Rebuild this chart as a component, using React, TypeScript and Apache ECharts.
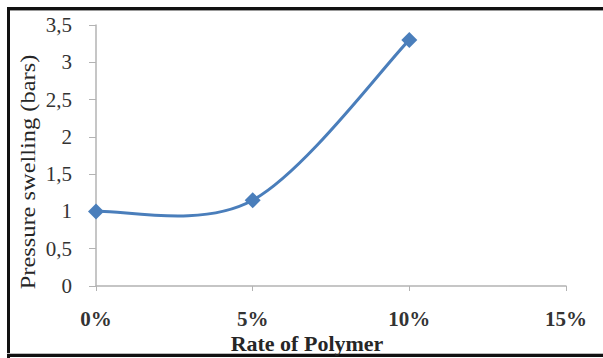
import React, { useEffect, useRef } from "react";
import * as echarts from "echarts";

const categories = ["0%", "5%", "10%", "15%"];
const pressureValues: (number | null)[] = [1, 1.15, 3.3, null];
const yTicks = { min: 0, max: 3.5, interval: 0.5 };
const xTitle = "Rate of Polymer";
const yTitle = "Pressure swelling (bars)";

const serif = "'Liberation Serif', 'Times New Roman', serif";

export default function App() {
  const ref = useRef<HTMLDivElement>(null);
  useEffect(() => {
    if (!ref.current) return;
    const chart = echarts.init(ref.current, null, { renderer: "svg" });

    const pointData = pressureValues
      .map((v, i) => (v == null ? null : [i, v]))
      .filter((d) => d !== null) as number[][];

    const renderCurve = (params: any, api: any) => {
      if (params.dataIndex !== 0) return null;
      const pts = pointData.map((d) => api.coord(d));
      if (pts.length < 2) return null;
      let d = `M${pts[0][0]},${pts[0][1]}`;
      for (let i = 0; i < pts.length - 1; i++) {
        const p0 = pts[i - 1] || pts[i];
        const p1 = pts[i];
        const p2 = pts[i + 1];
        const p3 = pts[i + 2] || pts[i + 1];
        const c1x = p1[0] + (p2[0] - p0[0]) / 6;
        const c1y = p1[1] + (p2[1] - p0[1]) / 6;
        const c2x = p2[0] - (p3[0] - p1[0]) / 6;
        const c2y = p2[1] - (p3[1] - p1[1]) / 6;
        d += ` C${c1x},${c1y} ${c2x},${c2y} ${p2[0]},${p2[1]}`;
      }
      return {
        type: "path",
        shape: { pathData: d },
        style: { stroke: "#4a7ebb", lineWidth: 3, fill: "none" },
      };
    };

    chart.setOption({
      animation: false,
      backgroundColor: "#ffffff",
      grid: { left: 96, right: 37, top: 25, bottom: 72 },
      xAxis: {
        type: "category",
        data: categories,
        boundaryGap: false,
        axisLine: { lineStyle: { color: "#b3b3b3", width: 1.5 } },
        axisTick: { show: true, length: 5, alignWithLabel: true, lineStyle: { color: "#b3b3b3" } },
        axisLabel: {
          margin: 22,
          fontFamily: serif,
          fontSize: 21,
          fontWeight: "bold",
          color: "#333333",
        },
        splitLine: { show: false },
      },
      yAxis: {
        type: "value",
        min: yTicks.min,
        max: yTicks.max,
        interval: yTicks.interval,
        axisLine: { show: true, lineStyle: { color: "#b3b3b3", width: 1.5 } },
        axisTick: { show: true, length: 7, lineStyle: { color: "#b3b3b3" } },
        splitLine: { show: false },
        axisLabel: {
          margin: 24,
          fontFamily: serif,
          fontSize: 21,
          color: "#333333",
          formatter: (v: number) => String(v).replace(".", ","),
        },
      },
      series: [
        {
          type: "custom",
          data: pointData,
          encode: { x: 0, y: 1 },
          renderItem: renderCurve,
          z: 2,
          silent: true,
        },
        {
          type: "scatter",
          data: pointData,
          symbol: "diamond",
          symbolSize: 16,
          itemStyle: { color: "#4a7ebb", opacity: 1 },
          z: 3,
        },
      ],
      graphic: [
        { type: "rect", shape: { x: 7, y: 7, width: 600, height: 3 }, style: { fill: "#111" } },
        { type: "rect", shape: { x: 7, y: 10, width: 600, height: 1 }, style: { fill: "#999" } },
        { type: "rect", shape: { x: 7, y: 7, width: 3, height: 351 }, style: { fill: "#111" } },
        { type: "rect", shape: { x: 7, y: 354, width: 600, height: 3 }, style: { fill: "#111" } },
        { type: "rect", shape: { x: 7, y: 353, width: 600, height: 1 }, style: { fill: "#bbb" } },
        {
          type: "text",
          x: 307,
          y: 343,
          style: {
            text: xTitle,
            fontFamily: serif,
            fontSize: 22,
            fontWeight: "bold",
            fill: "#262626",
            align: "center",
            verticalAlign: "middle",
          },
        },
        {
          type: "text",
          x: 27,
          y: 172,
          rotation: Math.PI / 2,
          scaleX: 1.11,
          style: {
            text: yTitle,
            fontFamily: serif,
            fontSize: 22,
            fill: "#262626",
            align: "center",
            verticalAlign: "middle",
          },
        },
      ],
    });
    return () => chart.dispose();
  }, []);
  return (
    <div
      ref={ref}
      style={{ position: "fixed", left: 0, top: 0, width: 603, height: 358 }}
    />
  );
}
